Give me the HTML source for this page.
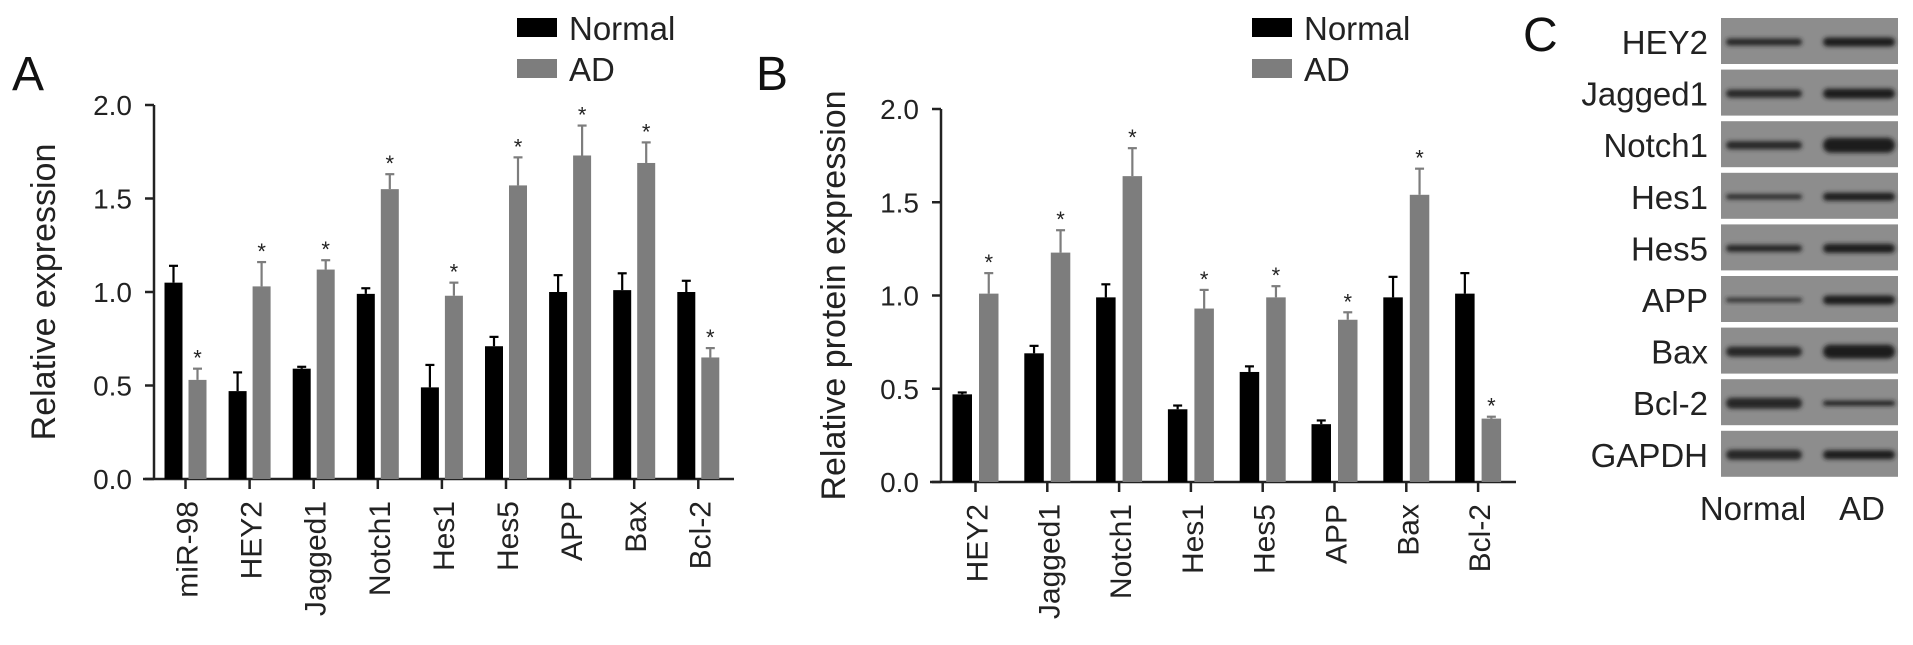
<!DOCTYPE html>
<html><head><meta charset="utf-8">
<style>
html,body{margin:0;padding:0;background:#fff;}
svg{display:block;font-family:"Liberation Sans",Arial,sans-serif;}
</style></head>
<body>
<svg id="fig" width="1913" height="645" viewBox="0 0 1913 645" xmlns="http://www.w3.org/2000/svg">
<defs>
<filter id="blur" x="-20%" y="-100%" width="140%" height="300%"><feGaussianBlur stdDeviation="2.2"/></filter>
</defs>
</svg>
<script>
// Panel A data
const catsA = ["miR-98","HEY2","Jagged1","Notch1","Hes1","Hes5","APP","Bax","Bcl-2"];
const normA = [1.05,0.47,0.59,0.99,0.49,0.71,1.00,1.01,1.00];
const normErrA = [0.09,0.10,0.01,0.03,0.12,0.05,0.09,0.09,0.06];
const adA = [0.53,1.03,1.12,1.55,0.98,1.57,1.73,1.69,0.65];
const adErrA = [0.06,0.13,0.05,0.08,0.07,0.15,0.16,0.11,0.05];
// Panel B data
const catsB = ["HEY2","Jagged1","Notch1","Hes1","Hes5","APP","Bax","Bcl-2"];
const normB = [0.47,0.69,0.99,0.39,0.59,0.31,0.99,1.01];
const normErrB = [0.01,0.04,0.07,0.02,0.03,0.02,0.11,0.11];
const adB = [1.01,1.23,1.64,0.93,0.99,0.87,1.54,0.34];
const adErrB = [0.11,0.12,0.15,0.10,0.06,0.04,0.14,0.01];
const yTicks = ["0.0","0.5","1.0","1.5","2.0"];
// Panel C data
const blotRows = ["HEY2","Jagged1","Notch1","Hes1","Hes5","APP","Bax","Bcl-2","GAPDH"];
const bandNormal = [7,8,8,5,7,4,10,11,10];
const bandAD = [9,10,15,8,9,9,14,5,9];

const svg = document.getElementById('fig');
const NS = "http://www.w3.org/2000/svg";
function mk(tag, attrs, parent){
  const e = document.createElementNS(NS, tag);
  for (const k in attrs) e.setAttribute(k, attrs[k]);
  (parent||svg).appendChild(e);
  return e;
}
function txt(s, attrs){ const t = mk('text', attrs); t.textContent = s; return t; }

function panel(cfg, cats, norm, normErr, ad, adErr){
  const g = mk('g', {});
  
  
  const y = v => cfg.y0 - v * (cfg.y0 - cfg.y2) / 2;
  const gx = i => cfg.g0 + i * cfg.step;
  const ya = mk('line', {x1:cfg.ax, y1:cfg.y2, x2:cfg.ax, y2:cfg.y0, stroke:'#222', 'stroke-width':2.5}, g);
  
  
  yTicks.forEach(t => {
    const v = parseFloat(t);
    mk('line', {x1:cfg.ax-9, y1:y(v), x2:cfg.ax, y2:y(v), stroke:'#222', 'stroke-width':2.5}, g);
    const tl = txt(t, {x:cfg.ax-22, y:y(v)+10, 'text-anchor':'end', 'font-size':28, fill:'#222'});
    
    
    g.appendChild(tl);
  });
  const yt = txt(cfg.ytitle, {x:0, y:0, 'text-anchor':'middle', 'font-size':34, fill:'#222', transform:`translate(${cfg.ytx},${(cfg.y0+cfg.y2)/2}) rotate(-90)`});
  
  
  g.appendChild(yt);
  const xa = mk('line', {x1:cfg.xl, y1:cfg.y0, x2:cfg.xr, y2:cfg.y0, stroke:'#222', 'stroke-width':2.5}, g);
  
  
  cats.forEach((c, i) => {
    const cx = gx(i);
    mk('line', {x1:cx, y1:cfg.y0, x2:cx, y2:cfg.y0+10, stroke:'#222', 'stroke-width':2.5}, g);
    const xl = txt(c, {x:0, y:0, 'text-anchor':'end', 'font-size':30, fill:'#222', transform:`translate(${cx+12},${cfg.y0+22}) rotate(-90)`});
    
    
    g.appendChild(xl);
    [[norm[i], normErr[i], '#000', -cfg.bw - cfg.gap/2, 'bar-normal', false],
     [ad[i], adErr[i], '#7d7d7d', cfg.gap/2, 'bar-ad', true]].forEach(([v, e, col, off, nm, star]) => {
      const bx = cx + off;
      const r = mk('rect', {x:bx, y:y(v), width:cfg.bw, height:cfg.y0 - y(v), fill:col}, g);
      
      
      const mx = bx + cfg.bw/2;
      mk('line', {x1:mx, y1:y(v), x2:mx, y2:y(v+e), stroke:col, 'stroke-width':2.2}, g);
      mk('line', {x1:mx-4.5, y1:y(v+e), x2:mx+4.5, y2:y(v+e), stroke:col, 'stroke-width':2.2}, g);
      if (star) {
        const s = txt('*', {x:mx, y:y(v+e)-3, 'text-anchor':'middle', 'font-size':22, fill:'#222'});
        
        
        g.appendChild(s);
      }
    });
  });
  const lg = mk('g', {}, g);
  
  
  mk('rect', {x:cfg.lx, y:18, width:40, height:19, fill:'#000'}, lg);
  mk('rect', {x:cfg.lx, y:59, width:40, height:19, fill:'#7d7d7d'}, lg);
  const l1 = txt('Normal', {x:cfg.lx+52, y:40, 'font-size':33, fill:'#222'});
  
  
  lg.appendChild(l1);
  const l2 = txt('AD', {x:cfg.lx+52, y:81, 'font-size':33, fill:'#222'});
  
  
  lg.appendChild(l2);
  const pl = txt(cfg.letter, {x:cfg.px, y:cfg.py, 'font-size':48, fill:'#111'});
  
  
  g.appendChild(pl);
}

panel({name:'panel-a', letter:'A', px:12, py:90, ax:154, y0:479, y2:105, xl:143, xr:734, g0:185.5, step:64.1, bw:18, gap:6, ytx:55, ytitle:'Relative expression', lx:517}, catsA, normA, normErrA, adA, adErrA);
panel({name:'panel-b', letter:'B', px:756, py:90, ax:941, y0:482, y2:109, xl:930, xr:1516, g0:975.5, step:71.8, bw:19.5, gap:7, ytx:845, ytitle:'Relative protein expression', lx:1252}, catsB, normB, normErrB, adB, adErrB);

const pc = mk('g', {});


const cl = txt('C', {x:1523, y:51, 'font-size':48, fill:'#111'});


pc.appendChild(cl);
blotRows.forEach((r, i) => {
  const top = 18 + i * 51.6;
  const h = 46;
  const strip = mk('rect', {x:1721, y:top, width:177, height:h, fill:'#8d8d8d'}, pc);
  
  
  const cy = top + h/2 + 1;
  mk('rect', {x:1726, y:cy - bandNormal[i]/2, width:76, height:bandNormal[i], rx:bandNormal[i]/2, fill:'#252525', filter:'url(#blur)'}, pc);
  mk('rect', {x:1823, y:cy - bandAD[i]/2, width:72, height:bandAD[i], rx:bandAD[i]/2, fill:'#1e1e1e', filter:'url(#blur)'}, pc);
  const lab = txt(r, {x:1708, y:cy + 12, 'text-anchor':'end', 'font-size':33, fill:'#222'});
  
  
  pc.appendChild(lab);
});
const cn = txt('Normal', {x:1753, y:520, 'text-anchor':'middle', 'font-size':33, fill:'#222'});


pc.appendChild(cn);
const ca = txt('AD', {x:1862, y:520, 'text-anchor':'middle', 'font-size':33, fill:'#222'});


pc.appendChild(ca);
</script>
</body></html>
